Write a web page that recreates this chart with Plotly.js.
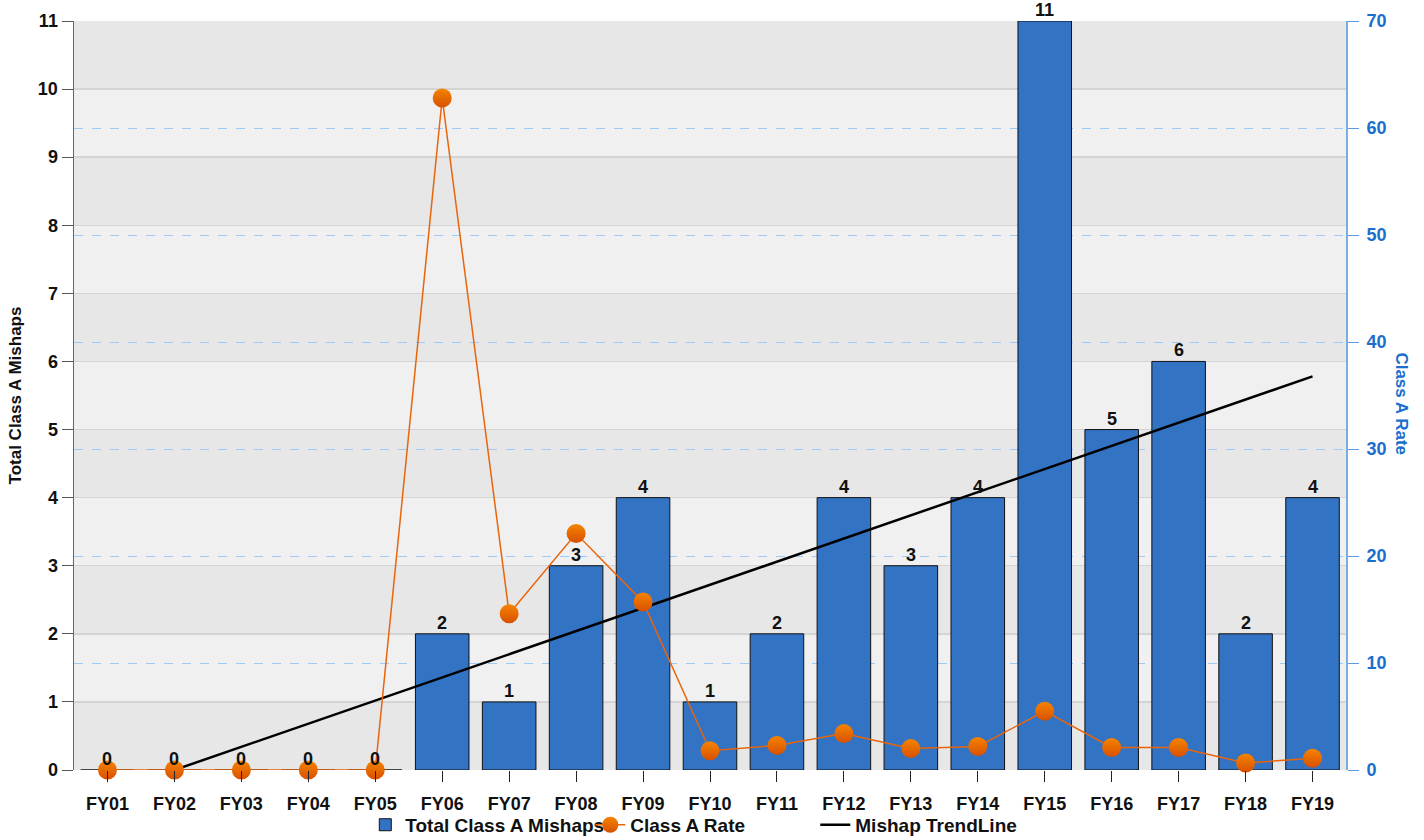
<!DOCTYPE html>
<html>
<head>
<meta charset="utf-8">
<script src="https://cdn.plot.ly/plotly-3.0.1.min.js"></script>
<style>html,body{margin:0;padding:0;background:#fff;}#chart{width:1424px;height:840px;}</style>
</head>
<body>
<div id="chart"></div>
<script>
const categories = ['FY01','FY02','FY03','FY04','FY05','FY06','FY07','FY08','FY09','FY10','FY11','FY12','FY13','FY14','FY15','FY16','FY17','FY18','FY19'];
const mishaps = [0,0,0,0,0,2,1,3,4,1,2,4,3,4,11,5,6,2,4];
const classARate = [0,0,0,0,0,62.8,14.6,22.1,15.7,1.8,2.3,3.4,2.0,2.2,5.5,2.1,2.1,0.65,1.1];
const trendCategories = ['FY02','FY19'];
const trendValues = [0, 5.78];
const leftTicks = [0,1,2,3,4,5,6,7,8,9,10,11];
const rightTicks = [0,10,20,30,40,50,60,70];

const FAM = 'Liberation Sans, Arial, sans-serif';
const tickFont = {family:FAM, size:18, color:'#111', weight:'bold'};
const blueFont = {family:FAM, size:18, color:'#1a6fcc', weight:'bold'};
const titleFont = {family:FAM, size:17, color:'#111', weight:'bold'};

const bands = [];
for (let k = 0; k < 11; k += 2) {
  bands.push({type:'rect', xref:'paper', yref:'y', x0:0, x1:1, y0:k, y1:k+1, fillcolor:'#e7e7e7', line:{width:0}, layer:'below'});
}

const traces = [
  {
    type:'bar', name:'Total Class A Mishaps', x:categories, y:mishaps,
    marker:{color:'#3273c4', line:{color:'#111', width:1}},
    width:0.8, yaxis:'y'
  },
  {
    type:'scatter', mode:'lines+markers', name:'Class A Rate', x:categories, y:classARate,
    yaxis:'y2', cliponaxis:false,
    line:{color:'#e8650c', width:1.5},
    marker:{size:19, color:'#f58400', gradient:{type:'vertical', color:'#d85000'}, line:{width:0}}
  },
  {
    type:'scatter', mode:'lines', name:'Mishap TrendLine', x:trendCategories, y:trendValues,
    yaxis:'y', line:{color:'#000', width:2.5}
  }
];

const barLabels = categories.map((c, i) => ({
  x:c, y:mishaps[i], xref:'x', yref:'y', text:String(mishaps[i]), showarrow:false,
  yanchor:'bottom', yshift:-1, font:{family:FAM, size:18, color:'#111', weight:'bold'}
}));

const layout = {
  width:1424, height:840,
  margin:{l:74, r:78, t:21, b:70},
  paper_bgcolor:'#ffffff', plot_bgcolor:'#f0f0f0',
  font:tickFont,
  showlegend:true,
  legend:{orientation:'h', x:0.229, xanchor:'left', xref:'paper', yref:'container', y:0.018, yanchor:'middle',
    entrywidth:180, entrywidthmode:'pixels',
    font:{family:FAM, size:19, color:'#111', weight:'bold'}, bgcolor:'rgba(0,0,0,0)', traceorder:'normal'},
  xaxis:{type:'category', categoryorder:'array', categoryarray:categories, range:[-0.5,18.5],
    showgrid:false, ticks:'outside', ticklen:11, tickcolor:'#222', tickfont:tickFont, ticklabelstandoff:6,
    showline:false, zeroline:false},
  yaxis:{range:[0,11], tickvals:leftTicks, ticks:'outside', ticklen:11, tickcolor:'#555',
    showline:true, linecolor:'#666', linewidth:1.5, showgrid:true, gridcolor:'#d4d4d4', gridwidth:1.5,
    zeroline:false, tickfont:tickFont,
    title:{text:'Total Class A Mishaps', font:titleFont, standoff:12}},
  yaxis2:{range:[0,70], tickvals:rightTicks, overlaying:'y', side:'right', ticks:'outside', ticklen:11,
    tickcolor:'#5b9be0', showline:true, linecolor:'#7aaee3', linewidth:2, ticklabelstandoff:4,
    showgrid:true, gridcolor:'#9fcaf6', griddash:'dash', gridwidth:1, zeroline:false,
    tickfont:blueFont},
  annotations:[{text:'Class A Rate', xref:'paper', yref:'paper', x:1.0435, y:0.489, xanchor:'center', yanchor:'middle',
    textangle:90, showarrow:false, font:{family:FAM, size:17, color:'#1a6fcc', weight:'bold'}}].concat(barLabels),
  shapes:bands
};

Plotly.newPlot('chart', traces, layout, {displayModeBar:false, staticPlot:true});
</script>
</body>
</html>
